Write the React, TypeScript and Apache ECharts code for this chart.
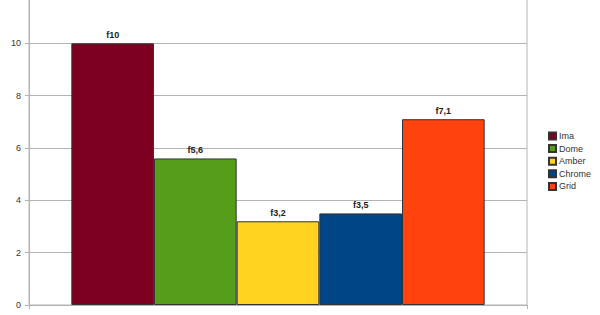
import React, { useEffect, useRef } from "react";
import * as echarts from "echarts";

const seriesNames = ["Ima", "Dome", "Amber", "Chrome", "Grid"];
const seriesValues = [10, 5.6, 3.2, 3.5, 7.1];
const seriesColors = ["#7e0021", "#579d1c", "#ffd320", "#004586", "#ff420e"];
const categories = [""];

export default function App() {
  const ref = useRef<HTMLDivElement>(null);
  useEffect(() => {
    if (!ref.current) return;
    const chart = echarts.init(ref.current, undefined, { renderer: "svg" });
    const font = "'Liberation Sans', Arial, sans-serif";
    chart.setOption({
      animation: false,
      backgroundColor: "#ffffff",
      textStyle: { fontFamily: font },
      grid: {
        left: 29,
        right: 73,
        top: -9,
        bottom: 10,
        show: true,
        borderColor: "#b3b3b3",
        borderWidth: 1,
        containLabel: false,
        outerBoundsMode: "none",
      },
      legend: {
        orient: "vertical",
        left: 543,
        top: 125,
        itemWidth: 7,
        itemHeight: 7,
        itemGap: 0.6,
        icon: "rect",
        textStyle: { fontSize: 9, color: "#333333", lineHeight: 12, padding: [0, 0, 0, -2] },
        data: seriesNames,
      },
      xAxis: {
        type: "category",
        data: categories,
        axisLine: { show: true, lineStyle: { color: "#b3b3b3" } },
        axisTick: { show: true, length: 4, lineStyle: { color: "#b3b3b3" } },
        axisLabel: { show: false },
      },
      yAxis: {
        type: "value",
        min: 0,
        max: 12,
        interval: 2,
        axisLine: { show: true, lineStyle: { color: "#b3b3b3" } },
        axisTick: { show: true, length: 4, lineStyle: { color: "#b3b3b3" } },
        axisLabel: { fontSize: 9, color: "#333333", margin: 8, showMaxLabel: false },
        splitLine: { show: true, lineStyle: { color: "#b3b3b3" } },
      },
      series: seriesNames.map((name, i) => ({
        name,
        type: "bar",
        data: [seriesValues[i]],
        barGap: "0%",
        barCategoryGap: "17%",
        itemStyle: { color: seriesColors[i], borderColor: "#333333", borderWidth: 1 },
        label: {
          show: true,
          position: "top",
          distance: 4,
          fontSize: 9,
          fontWeight: "bold",
          color: "#222222",
          formatter: (p: any) => "f" + String(p.value).replace(".", ","),
        },
      })),
    });
    return () => chart.dispose();
  }, []);
  return (
    <div
      ref={ref}
      style={{ position: "fixed", left: 0, top: 0, width: 600, height: 315 }}
    />
  );
}
